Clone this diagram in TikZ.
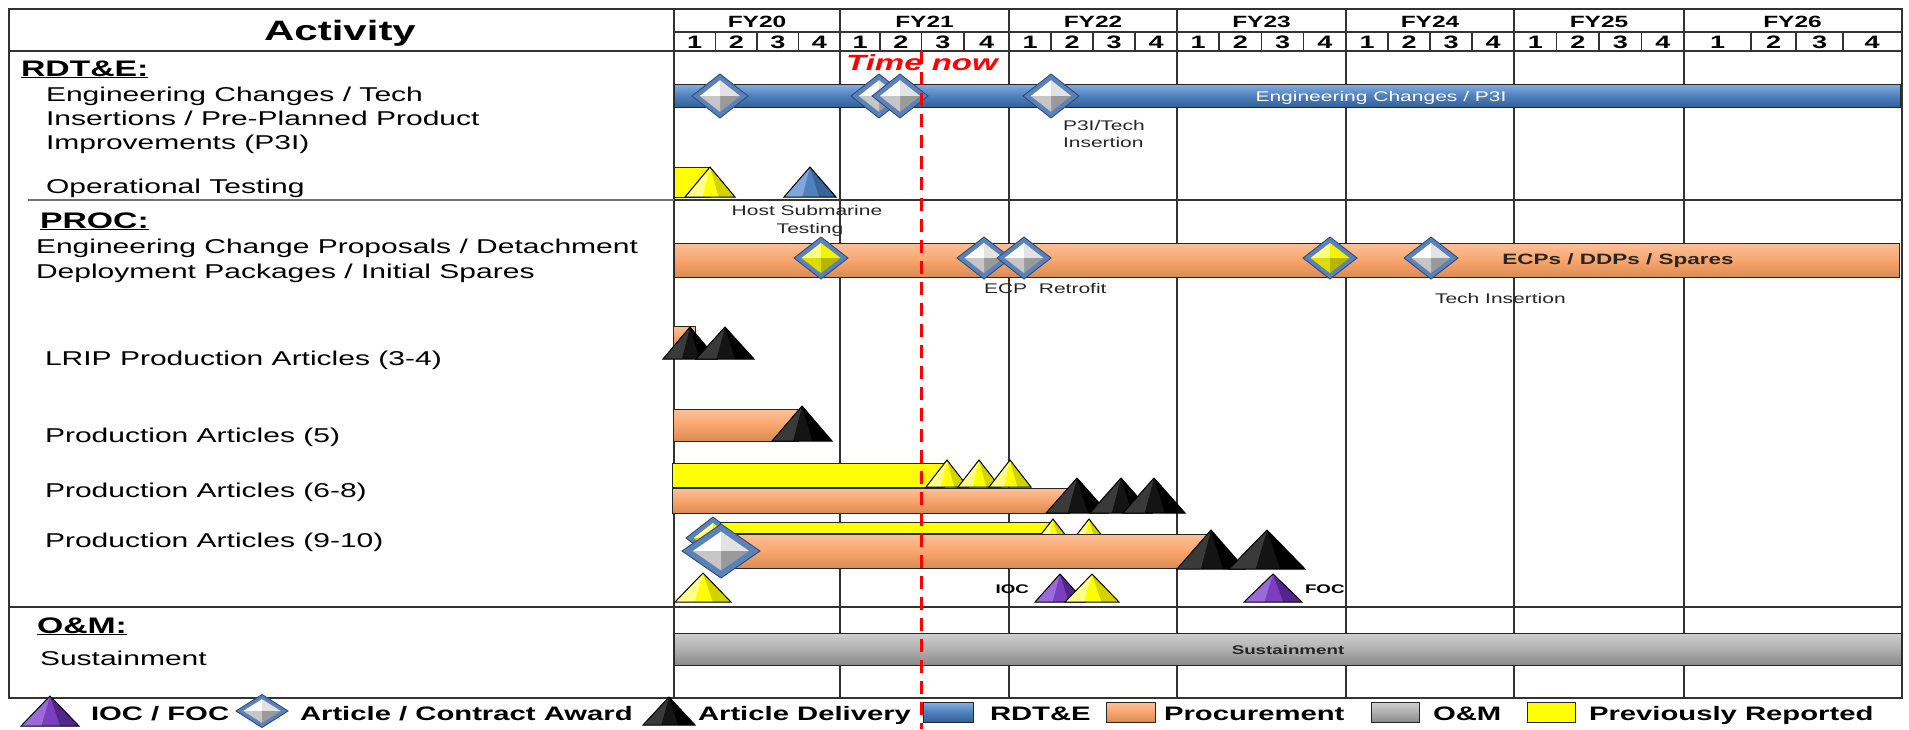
\documentclass[tikz,border=0pt]{standalone}
\usepackage{fontspec}
\setmainfont{Liberation Sans}

% bar colours
\definecolor{blueM}{HTML}{4F81BD}
\definecolor{blueL}{HTML}{86AEE2}
\definecolor{blueD}{HTML}{355F98}
\definecolor{orM}{HTML}{F9A66E}
\definecolor{orL}{HTML}{FBC198}
\definecolor{orD}{HTML}{D98A52}
\definecolor{grM}{HTML}{B0B0B0}
\definecolor{grL}{HTML}{CFCFCF}
\definecolor{grD}{HTML}{8A8A8A}
\definecolor{yelM}{HTML}{FFFF00}
\definecolor{yelL}{HTML}{FFFF8C}
\definecolor{yelD}{HTML}{D2D200}
% pyramid colours
\definecolor{blkM}{HTML}{141414}
\definecolor{blkL}{HTML}{3A3A3A}
\definecolor{blkD}{HTML}{000000}
\definecolor{purM}{HTML}{7B3FBE}
\definecolor{purL}{HTML}{9C6AD8}
\definecolor{purD}{HTML}{54268A}
\definecolor{bluM}{HTML}{4F81BD}
\definecolor{bluL}{HTML}{7FA7D9}
\definecolor{bluD}{HTML}{3A6499}
% diamond colours
\definecolor{gemrim}{HTML}{5B82B8}
\definecolor{gemedge}{HTML}{2C4C7C}
\definecolor{svA}{HTML}{FFFFFF}
\definecolor{svB}{HTML}{E2E2E2}
\definecolor{svC}{HTML}{9A9A9A}
\definecolor{svD}{HTML}{C6C6C6}
\definecolor{ygA}{HTML}{FFFF80}
\definecolor{ygB}{HTML}{F4F400}
\definecolor{ygC}{HTML}{B5B500}
\definecolor{ygD}{HTML}{DCDC00}
\definecolor{gridcol}{HTML}{333333}

% milestone pyramid: apex x, apex y, half base, height, colour set
\newcommand\pyr[5]{%
  \begin{scope}[shift={(#1,#2)}]
    \fill[#5M] (0,0) -- (-#3,#4) -- (#3,#4) -- cycle;
    \fill[#5L] (0,0) -- (-#3,#4) -- (-0.3*#3,#4) -- cycle;
    \fill[#5D] (0,0) -- (0.35*#3,#4) -- (#3,#4) -- cycle;
    \draw[black, line width=1pt, line join=miter] (0,0) -- (-#3,#4) -- (#3,#4) -- cycle;
  \end{scope}}

% award diamond: centre x, centre y, half width, half height, colour set
\newcommand\gem[5]{%
  \begin{scope}[shift={(#1,#2)}]
    \filldraw[fill=gemrim, draw=gemedge, line width=0.9pt]
      (-#3,0) -- (0,-#4) -- (#3,0) -- (0,#4) -- cycle;
    \fill[#5A] (0,0) -- (-0.72*#3,0) -- (0,-0.72*#4) -- cycle;
    \fill[#5B] (0,0) -- (0,-0.72*#4) -- (0.72*#3,0) -- cycle;
    \fill[#5C] (0,0) -- (0.72*#3,0) -- (0,0.72*#4) -- cycle;
    \fill[#5D] (0,0) -- (0,0.72*#4) -- (-0.72*#3,0) -- cycle;
  \end{scope}}

\tikzset{
  grid/.style={draw=gridcol, line width=1.6pt},
  qgrid/.style={draw=gridcol, line width=1.2pt},
  bar/.style={draw=black!85, line width=0.9pt},
  bluebar/.style={bar, top color=blueL, bottom color=blueD, middle color=blueM},
  orbar/.style={bar, top color=orL, bottom color=orD, middle color=orM},
  graybar/.style={bar, top color=grL, bottom color=grD, middle color=grM},
  yelbar/.style={bar, fill=yelM},
  txtbase/.style={inner sep=0pt, outer sep=0pt, xscale=1.5},
  lefttxt/.style={txtbase, anchor=base west, font=\fontsize{20}{24}\selectfont},
  secttxt/.style={txtbase, anchor=base west, font=\bfseries\fontsize{22.5}{27}\selectfont},
  fytxt/.style={txtbase, anchor=base, font=\bfseries\fontsize{16.3}{19}\selectfont},
  qtxt/.style={txtbase, anchor=base, font=\bfseries\fontsize{18}{21}\selectfont},
  notetxt/.style={txtbase, font=\fontsize{14}{17}\selectfont, text=black!85},
  tinytxt/.style={txtbase, font=\bfseries\fontsize{12.5}{15}\selectfont},
  legtxt/.style={txtbase, anchor=base west, font=\bfseries\fontsize{19.5}{23}\selectfont},
  nowline/.style={draw=red, line width=3pt, dash pattern=on 13pt off 8pt},
}

\begin{document}
\begin{tikzpicture}[x=1pt, y=-1pt]
\useasboundingbox (0,0) rectangle (1909,729);
\fill[white] (0,0) rectangle (1909,729);

% ---------------- table frame ----------------
\draw[grid] (9,9) rectangle (1902,698);
\draw[grid] (674,9) -- (674,698);
\draw[grid] (674,32) -- (1902,32);
\draw[grid] (9,51) -- (1902,51);
\draw[grid, draw=black!55] (28,200) -- (674,200);
\draw[grid] (674,200) -- (1902,200);
\draw[grid] (9,607) -- (1902,607);
\foreach \x in {840,1009,1177,1346,1514,1684}
  \draw[grid] (\x,9) -- (\x,698);
\foreach \x in {715.5,757,798.5, 880,921.5,964, 1051,1093,1135,
                1219,1261.5,1303.5, 1388,1430,1472, 1556.5,1599,1641.5,
                1751,1796,1843}
  \draw[qgrid] (\x,32) -- (\x,51);

% ---------------- header ----------------
\node[txtbase, anchor=base, font=\bfseries\fontsize{28}{32}\selectfont] (activity) at (340,40) {Activity};
\foreach \x/\t [count=\i] in {757/FY20, 924.5/FY21, 1093/FY22, 1261.5/FY23,
                             1430/FY24, 1599/FY25, 1792.5/FY26}
  \node[fytxt] (fy\i) at (\x,27) {\t};
\foreach \x/\q [count=\i] in {694.75/1, 736.25/2, 777.75/3, 819.25/4,
    860/1, 900.75/2, 942.75/3, 986.5/4,
    1030/1, 1072/2, 1114/3, 1156/4,
    1198/1, 1240.25/2, 1282.5/3, 1324.75/4,
    1367/1, 1409/2, 1451/3, 1493/4,
    1535.25/1, 1577.75/2, 1620.25/3, 1662.75/4,
    1717.5/1, 1773.5/2, 1819.5/3, 1872/4}
  \node[qtxt] (q\i) at (\x,48) {\q};

% ---------------- activity column ----------------
\node[secttxt] (rdte) at (21,76) {\underline{RDT\&E:}};
\node[lefttxt] (ec1) at (46,101) {Engineering Changes / Tech};
\node[lefttxt] (ec2) at (46,125) {Insertions / Pre-Planned Product};
\node[lefttxt] (ec3) at (46,149) {Improvements (P3I)};
\node[lefttxt] (optest) at (46,193) {Operational Testing};
\node[secttxt] (proc) at (40,228) {\underline{PROC:}};
\node[lefttxt] (ecp1) at (36,253) {Engineering Change Proposals / Detachment};
\node[lefttxt] (ecp2) at (36,278) {Deployment Packages / Initial Spares};
\node[lefttxt] (lrip) at (45,365) {LRIP Production Articles (3-4)};
\node[lefttxt] (pa5) at (45,442) {Production Articles (5)};
\node[lefttxt] (pa68) at (45,497) {Production Articles (6-8)};
\node[lefttxt] (pa910) at (45,547) {Production Articles (9-10)};
\node[secttxt] (om) at (37,633) {\underline{O\&M:}};
\node[lefttxt] (sust) at (40,665) {Sustainment};

\node[txtbase, anchor=base, text=red, font=\bfseries\itshape\fontsize{22}{26}\selectfont] (tnow) at (922,70) {Time now};

% ---------------- RDT&E ----------------
\draw[bluebar] (674,84) rectangle (1900,107);
\node[notetxt, anchor=base, text=white] (p3ibar) at (1381,101) {Engineering Changes / P3I};
\gem{720}{96}{28}{22}{sv}
\gem{879}{96}{28}{22}{sv}
\gem{900}{96}{28}{22}{sv}
\gem{1051}{96}{28}{22}{sv}
\node[notetxt, anchor=base west] (p3i1) at (1063,130) {P3I/Tech};
\node[notetxt, anchor=base west] (p3i2) at (1063,147) {Insertion};

% operational testing
\draw[yelbar] (674,167) rectangle (710,197);
\pyr{710}{167}{25}{30}{yel}
\pyr{810}{167}{26}{30}{blu}
\node[notetxt, anchor=base] (host1) at (807,215) {Host Submarine};
\node[notetxt, anchor=base] (host2) at (810,233) {Testing};

% ---------------- PROC ----------------
\draw[orbar] (674,243) rectangle (1899,277);
\node[txtbase, anchor=base, font=\bfseries\fontsize{15}{18}\selectfont, text=black!85] (ecpbar) at (1618,264) {ECPs / DDPs / Spares};
\gem{821}{258}{27}{21}{yg}
\gem{984}{258}{27}{21}{sv}
\gem{1024}{258}{27}{21}{sv}
\gem{1330}{258}{27}{21}{yg}
\gem{1431}{258}{27}{21}{sv}
\node[notetxt, anchor=base west] (ecpretro) at (984,293) {ECP\ \ Retrofit};
\node[notetxt, anchor=base west] (techins) at (1435,303) {Tech Insertion};

% LRIP (3-4)
\draw[orbar] (673,326) rectangle (695,347);
\pyr{690}{327}{27}{32}{blk}
\pyr{725}{327}{29}{32}{blk}

% production (5)
\draw[orbar] (673,409) rectangle (798,441);
\pyr{802}{406}{30}{35}{blk}

% production (6-8)
\draw[yelbar] (672,463) rectangle (944,487);
\pyr{947}{460}{21}{27}{yel}
\pyr{979}{460}{21}{27}{yel}
\pyr{1010}{460}{21}{27}{yel}
\draw[orbar] (672,488) rectangle (1069,513);
\pyr{1077}{478}{31}{35}{blk}
\pyr{1121}{478}{31}{35}{blk}
\pyr{1154}{478}{31}{35}{blk}

% production (9-10)
\gem{713}{538}{27}{21}{yg}
\draw[yelbar] (720,522) rectangle (1055,533);
\pyr{1053}{519}{21}{27}{yel}
\pyr{1089}{519}{21}{27}{yel}
\draw[orbar] (725,534) rectangle (1207,568);
\pyr{1211}{530}{34}{39}{blk}
\pyr{1267}{530}{38}{39}{blk}
\gem{721}{551}{39}{27}{sv}

% IOC / FOC
\pyr{703}{573}{28}{29}{yel}
\pyr{1060}{574}{25}{28}{pur}
\pyr{1092}{574}{27}{28}{yel}
\pyr{1273}{574}{29}{28}{pur}
\node[tinytxt, anchor=base east] (ioc) at (1029,593) {IOC};
\node[tinytxt, anchor=base west] (foc) at (1305,593) {FOC};

% ---------------- O&M ----------------
\draw[graybar] (674,633) rectangle (1901,665);
\node[tinytxt, anchor=base, text=black!85] (sustbar) at (1288,654) {Sustainment};

% ---------------- time-now line ----------------
\coordinate (nowtop) at (921,51);
\coordinate (nowbot) at (921,729);
\draw[nowline] (nowtop) -- (nowbot);

% ---------------- legend ----------------
\pyr{50}{696}{29}{30}{pur}
\node[legtxt] (lg1) at (91,720) {IOC / FOC};
\gem{262}{711}{26}{16.5}{sv}
\node[legtxt] (lg2) at (300,720) {Article / Contract Award};
\pyr{669}{697}{26}{28}{blk}
\node[legtxt] (lg3) at (698,720) {Article Delivery};
\draw[bluebar] (923,702) rectangle (973,722);
\node[legtxt] (lg4) at (990,720) {RDT\&E};
\draw[orbar] (1106,702) rectangle (1155,722);
\node[legtxt] (lg5) at (1164,720) {Procurement};
\draw[graybar] (1371,702) rectangle (1419,722);
\node[legtxt] (lg6) at (1433,720) {O\&M};
\draw[yelbar] (1527,702) rectangle (1575,722);
\node[legtxt] (lg7) at (1589,720) {Previously Reported};
\end{tikzpicture}
\end{document}
